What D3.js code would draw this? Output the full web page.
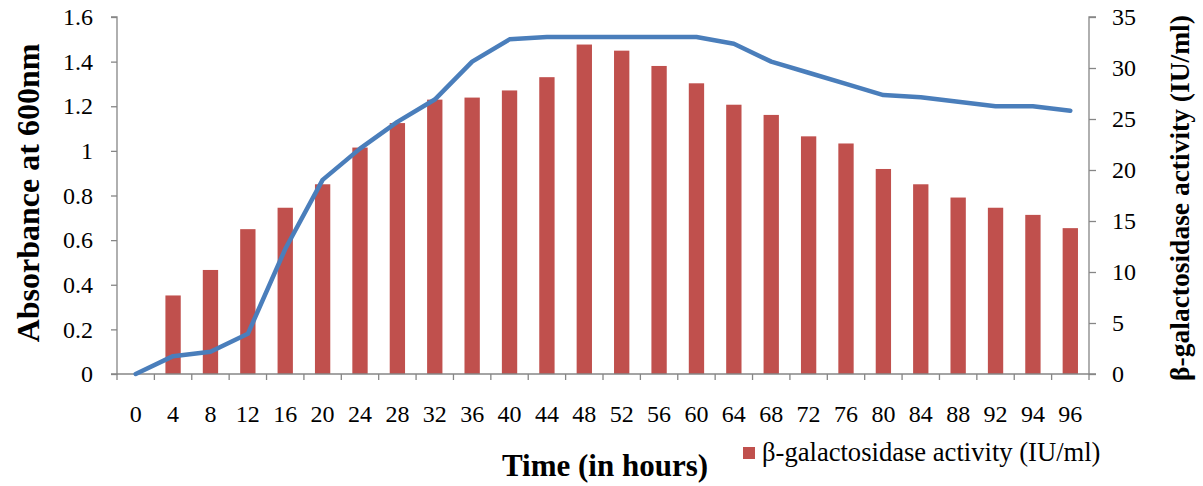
<!DOCTYPE html>
<html><head><meta charset="utf-8">
<script src="https://cdn.jsdelivr.net/npm/d3@7"></script>
<style>body{margin:0;background:#fff}svg{display:block}svg text{font-family:"Liberation Serif","Times New Roman",Times,serif !important}</style>
</head><body><svg id="c" width="1203" height="486"></svg>
<script>
const categories = ["0","4","8","12","16","20","24","28","32","36","40","44","48","52","56","60","64","68","72","76","80","84","88","92","94","96"];
const activity = [0,7.7,10.2,14.2,16.3,18.6,22.2,24.6,26.9,27.1,27.8,29.1,32.3,31.7,30.2,28.5,26.4,25.4,23.3,22.6,20.1,18.6,17.3,16.3,15.6,14.3];
const absorbance = [0,0.08,0.10,0.18,0.56,0.87,1.01,1.13,1.23,1.40,1.50,1.51,1.51,1.51,1.51,1.51,1.48,1.40,1.35,1.30,1.25,1.24,1.22,1.20,1.20,1.18];
const leftTicks = [0,0.2,0.4,0.6,0.8,1,1.2,1.4,1.6];
const rightTicks = [0,5,10,15,20,25,30,35];
const leftTitle = "Absorbance at 600nm";
const rightTitle = "β-galactosidase activity (IU/ml)";
const xTitle = "Time (in hours)";
const legendLabel = "β-galactosidase activity (IU/ml)";

const FONT = '"Liberation Serif","Times New Roman",Times,serif';
const svg = d3.select("#c");
const L = 117, R = 1089, T = 17, B = 374;
const x = d3.scaleBand().domain(categories).range([L, R]).padding(0);
const yL = d3.scaleLinear().domain([0, 1.6]).range([B, T]);
const yR = d3.scaleLinear().domain([0, 35]).range([B, T]);
const axisColor = "#868686";

// bars
const bw = x.bandwidth() * 0.41;
svg.append("g").selectAll("rect").data(categories).join("rect")
  .attr("x", (d) => x(d) + x.bandwidth()/2 - bw/2)
  .attr("width", bw)
  .attr("y", (d,i) => yR(activity[i]))
  .attr("height", (d,i) => B - yR(activity[i]))
  .attr("fill", "#C0504D");

// axes
const gL = svg.append("g").attr("transform", `translate(${L},0)`)
  .call(d3.axisLeft(yL).tickValues(leftTicks).tickSize(6).tickPadding(18).tickFormat(d3.format("~g")));
const gR = svg.append("g").attr("transform", `translate(${R},0)`)
  .call(d3.axisRight(yR).tickValues(rightTicks).tickSize(7).tickPadding(16));
const gX = svg.append("g").attr("transform", `translate(0,${B})`)
  .call(d3.axisBottom(x).tickSize(0).tickPadding(31));
const bounds = categories.map(c => x(c)).concat([R]);
svg.append("g").selectAll("line").data(bounds).join("line")
  .attr("x1", d => d).attr("x2", d => d).attr("y1", B).attr("y2", B + 6)
  .attr("stroke", axisColor).attr("stroke-width", 1.3);

[gL, gR, gX].forEach(g => {
  g.attr("font-family", FONT);
  g.select(".domain").attr("stroke", axisColor).attr("stroke-width", 1.3);
  g.selectAll(".tick line").attr("stroke", axisColor).attr("stroke-width", 1.3);
  g.selectAll(".tick text").style("font-family", FONT).attr("font-size", 24).attr("fill", "#000");
});
gL.select(".domain").attr("d", `M-6,${T}H0V${B}H-6`);
gR.select(".domain").attr("d", `M7,${T}H0V${B}H7`);
gX.select(".domain").attr("d", `M${L},0H${R}`);

// line
const line = d3.line().x((d,i) => x(categories[i]) + x.bandwidth()/2).y(d => yL(d));
svg.append("path").datum(absorbance).attr("d", line)
  .attr("fill", "none").attr("stroke", "#4A7EBB").attr("stroke-width", 4.5)
  .attr("stroke-linejoin", "round").attr("stroke-linecap", "round");

// titles
svg.append("text").attr("transform", `translate(39,193) rotate(-90)`).style("font-family", FONT)
  .attr("text-anchor", "middle").attr("font-weight", "bold").attr("font-size", 32).text(leftTitle);
svg.append("text").attr("transform", `translate(1189,198) rotate(-90)`).style("font-family", FONT)
  .attr("text-anchor", "middle").attr("font-weight", "bold").attr("font-size", 27.5).text(rightTitle);
svg.append("text").attr("x", 605).attr("y", 476).style("font-family", FONT)
  .attr("text-anchor", "middle").attr("font-weight", "bold").attr("font-size", 31).text(xTitle);

// legend
svg.append("rect").attr("x", 743).attr("y", 447).attr("width", 12).attr("height", 12).attr("fill", "#C0504D");
svg.append("text").attr("x", 762).attr("y", 461).style("font-family", FONT).attr("font-size", 26.6).text(legendLabel);
</script></body></html>
